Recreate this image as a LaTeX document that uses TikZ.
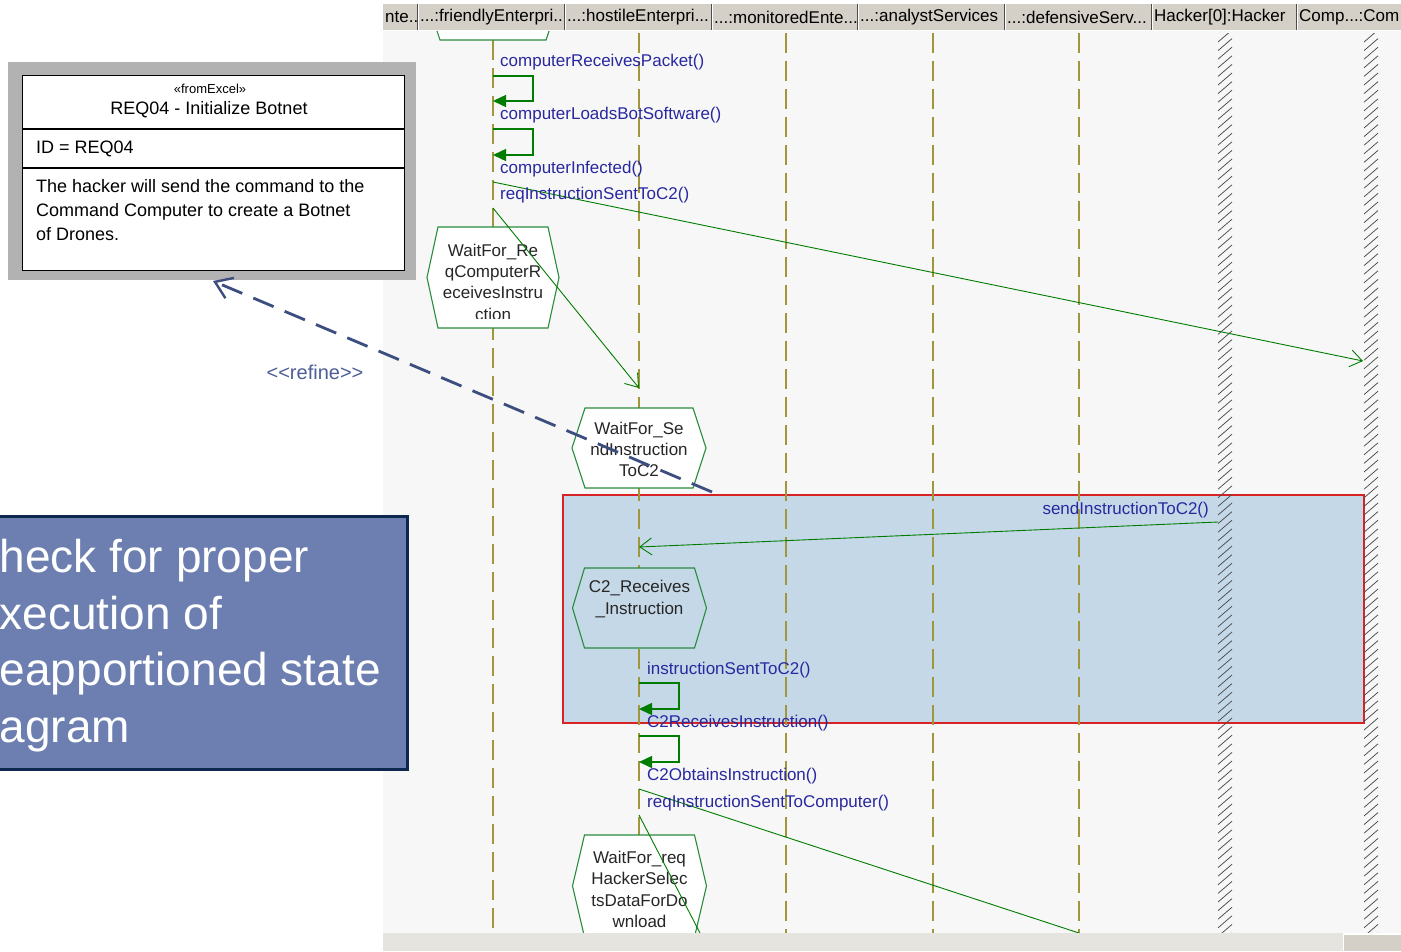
\documentclass[tikz,border=0pt]{standalone}
\usepackage{fontspec}
\setmainfont{Liberation Sans}
\usetikzlibrary{arrows.meta}

\definecolor{canvas}{RGB}{247,247,247}
\definecolor{hdr}{RGB}{212,208,200}
\definecolor{life}{RGB}{160,150,60}
\definecolor{msg}{RGB}{0,125,0}
\definecolor{lbl}{RGB}{40,40,160}
\definecolor{stateln}{RGB}{40,140,60}
\definecolor{frag}{RGB}{197,216,232}
\definecolor{fragln}{RGB}{215,35,35}
\definecolor{refine}{RGB}{60,78,128}
\definecolor{refinetxt}{RGB}{78,94,150}
\definecolor{note}{RGB}{108,127,176}
\definecolor{notedge}{RGB}{12,40,80}
\definecolor{reqframe}{RGB}{178,178,178}
\definecolor{scroll}{RGB}{230,228,222}

\tikzset{
  hexshape/.style n args={5}{insert path={(#1-#3,#2) -- (#1-#3+#5,#2-#4) -- (#1+#3-#5,#2-#4) -- (#1+#3,#2) -- (#1+#3-#5,#2+#4) -- (#1-#3+#5,#2+#4) -- cycle}},
  lifeline/.style={life, line width=1.5pt, dash pattern=on 20pt off 8pt},
  hatch/.style={black!70, line width=0.75pt},
  msgline/.style={msg, line width=0.9pt, -{Straight Barb[length=12pt,width=17pt,line width=0.9pt]}},
  msgplain/.style={msg, line width=0.9pt},
  selfmsg/.style={msg, line width=1.4pt, -{Triangle[length=13pt,width=12pt]}},
  msglabel/.style={lbl, font=\fontsize{17}{17}\selectfont, inner sep=0pt},
  statetxt/.style={align=center, inner sep=0pt, text=black!85, font=\fontsize{17}{21.3}\selectfont},
  stateedge/.style={stateln, line width=1.1pt},
  hdrlabel/.style={anchor=west, inner sep=0pt, font=\fontsize{17}{17}\selectfont},
  reqtext/.style={inner sep=0pt, font=\fontsize{18}{24}\selectfont},
}

% state box: name, cx, cy, half width, half height, inset, fill, text y, text
\newcommand\umlstate[9]{%
  \fill[#7] [hexshape={#2}{#3}{#4}{#5}{#6}];
  \begin{scope}
    \clip [hexshape={#2}{#3}{#4}{#5}{#6}];
    \clip (#2-#4,#3-#5) rectangle (#2+#4,#3+#5-10);
    \node[statetxt] (#1) at (#2,#8) {#9};
  \end{scope}
  \draw[stateedge] [hexshape={#2}{#3}{#4}{#5}{#6}];
}

% header cell: name, left x, right x, label
\newcommand\hdrcell[4]{%
  \begin{scope}
    \clip (#2,4) rectangle (#3-1.5,30);
    \node[hdrlabel] (#1) at (#2+2,17.5) {#4};
  \end{scope}
  \draw[black!70, line width=1.2pt] (#3-0.8,4) -- (#3-0.8,30);
  \draw[white, line width=1pt] (#3+0.6,4) -- (#3+0.6,30);
}

\begin{document}
\begin{tikzpicture}[x=1pt,y=-1pt]
\useasboundingbox (0,0) rectangle (1401,951);
\clip (0,0) rectangle (1401,951);
\fill[white] (0,0) rectangle (1401,951);

% sequence diagram canvas
\fill[canvas] (383,0) rectangle (1401,951);
\fill[white] (383,0) rectangle (1401,4);

% lifeline header
\fill[hdr] (383,4) rectangle (1401,30);
\draw[white, line width=1pt] (383,30.5) -- (1401,30.5);
\hdrcell{h1}{383}{418}{nte...}
\hdrcell{h2}{418}{565}{...:friendlyEnterpri..}
\hdrcell{h3}{565}{712}{...:hostileEnterpri...}
\hdrcell{h4}{712}{858}{...:monitoredEnte...}
\hdrcell{h5}{858}{1005}{...:analystServices}
\hdrcell{h6}{1005}{1152}{...:defensiveServ...}
\hdrcell{h7}{1152}{1297}{Hacker[0]:Hacker}
\hdrcell{h8}{1297}{1410}{Comp...:Com}

% combined fragment
\draw[fragln, fill=frag, line width=1.2pt] (563,495) rectangle (1364,723);

% lifelines
\draw[lifeline] (493,40) -- (493,933);
\foreach \lx in {639,786,933,1079}{
  \draw[lifeline] (\lx,33) -- (\lx,933);
}
\foreach \hx in {1218,1364}{
  \begin{scope}
    \clip (\hx-1,33) rectangle (\hx+16,933);
    \foreach \hy in {30,38.6,...,945}{
      \draw[hatch] (\hx,\hy+12) -- (\hx+14,\hy);
    }
  \end{scope}
}

% lower edge of a state above the visible area
\fill[white] (437,31) -- (440,40) -- (546,40) -- (549,31) -- cycle;
\draw[stateedge] (437,31) -- (440,40) -- (546,40) -- (549,31);

% states
\umlstate{s1}{493}{277.5}{66}{50.5}{11}{white}{282}{WaitFor\_Re\\qComputerR\\eceivesInstru\\ction}
\umlstate{s2}{639}{448}{67}{40}{13}{white}{449.5}{WaitFor\_Se\\ndInstruction\\ToC2}
\umlstate{s3}{639.5}{608}{67}{40}{12}{frag}{599}{C2\_Receives\\\_Instruction}
\umlstate{s4}{639.5}{886}{67}{51}{12}{white}{889.5}{WaitFor\_req\\HackerSelec\\tsDataForDo\\wnload}

% self messages
\coordinate (l1a) at (493,76);  \coordinate (l1b) at (493,101);
\coordinate (l2a) at (493,129); \coordinate (l2b) at (493,155);
\coordinate (l3a) at (639,683); \coordinate (l3b) at (639,709);
\coordinate (l4a) at (639,736); \coordinate (l4b) at (639,762);
\draw[selfmsg] (l1a) -- ++(40,0) |- (l1b);
\draw[selfmsg] (l2a) -- ++(40,0) |- (l2b);
\draw[selfmsg] (l3a) -- ++(40,0) |- (l3b);
\draw[selfmsg] (l4a) -- ++(40,0) |- (l4b);

% messages between lifelines
\coordinate (m1a) at (493,182);  \coordinate (m1b) at (1363,361);
\coordinate (m2a) at (493,208);  \coordinate (m2b) at (639,388);
\coordinate (m3a) at (1218,522); \coordinate (m3b) at (639,547);
\coordinate (m4a) at (639,789);  \coordinate (m4b) at (1079,933);
\coordinate (m5a) at (639,815);  \coordinate (m5b) at (700,933);
\draw[msgline] (m1a) -- (m1b);
\draw[msgline] (m2a) -- (m2b);
\draw[msgline] (m3a) -- (m3b);
\draw[msgplain] (m4a) -- (m4b);
\draw[msgplain] (m5a) -- (m5b);

% message labels
\node[msglabel, anchor=west] (t1) at (500,62)  {computerReceivesPacket()};
\node[msglabel, anchor=west] (t2) at (500,115.5) {computerLoadsBotSoftware()};
\node[msglabel, anchor=west] (t3) at (500,169) {computerInfected()};
\node[msglabel, anchor=west] (t4) at (500,195.5) {reqInstructionSentToC2()};
\node[msglabel, anchor=east] (t5) at (1209,510) {sendInstructionToC2()};
\node[msglabel, anchor=west] (t6) at (647,670) {instructionSentToC2()};
\node[msglabel, anchor=west] (t7) at (647,723) {C2ReceivesInstruction()};
\node[msglabel, anchor=west] (t8) at (647,776.5) {C2ObtainsInstruction()};
\node[msglabel, anchor=west] (t9) at (647,803.5) {reqInstructionSentToComputer()};

% scroll bar
\fill[scroll] (383,933) rectangle (1401,951);
\fill[hdr] (1343,933) rectangle (1401,951);
\draw[white, line width=1.2pt] (1343.6,951) -- (1343.6,934) -- (1401,934);

% requirement
\node[fill=reqframe, minimum width=408, minimum height=218, anchor=north west, inner sep=0pt] (req) at (8,62) {};
\node[draw=black, fill=white, line width=1.3pt, minimum width=382, minimum height=195, anchor=north west, inner sep=0pt] (reqbody) at (22,75) {};
\draw[black, line width=1.3pt] (reqbody.west |- 0,129) -- (reqbody.east |- 0,129);
\draw[black, line width=1.3pt] (reqbody.west |- 0,168) -- (reqbody.east |- 0,168);
\node[inner sep=0pt, font=\fontsize{13}{13}\selectfont] (stereo) at (210,88.5) {«fromExcel»};
\node[reqtext] (reqname) at (209,109.5) {REQ04 - Initialize Botnet};
\node[reqtext, anchor=west] (reqid) at (36,148.5) {ID = REQ04};
\node[reqtext, anchor=north west, align=left] (reqdesc) at (36,179.5) {The hacker will send the command to the\\Command Computer to create a Botnet\\of Drones.};

% refinement
\coordinate (rf0) at (712,492);
\coordinate (rf1) at (213,281);
\draw[refine, line width=2.8pt, dash pattern=on 22pt off 12pt, -{Straight Barb[length=16pt,width=22pt,line width=2.4pt]}] (rf0) -- (rf1);
\node[refinetxt, inner sep=0pt, font=\fontsize{20}{20}\selectfont] (rftxt) at (315,372) {<{}<refine>{}>};

% note
\node[draw=notedge, fill=note, line width=3pt, minimum width=440, minimum height=253, anchor=north east, inner sep=0pt] (note) at (409,515) {};
\node[white, anchor=north west, align=left, inner sep=0pt, font=\fontsize{46}{56.5}\selectfont] (notetext) at (-0.5,539) {heck for proper\\xecution of\\eapportioned state\\agram};
\end{tikzpicture}
\end{document}
